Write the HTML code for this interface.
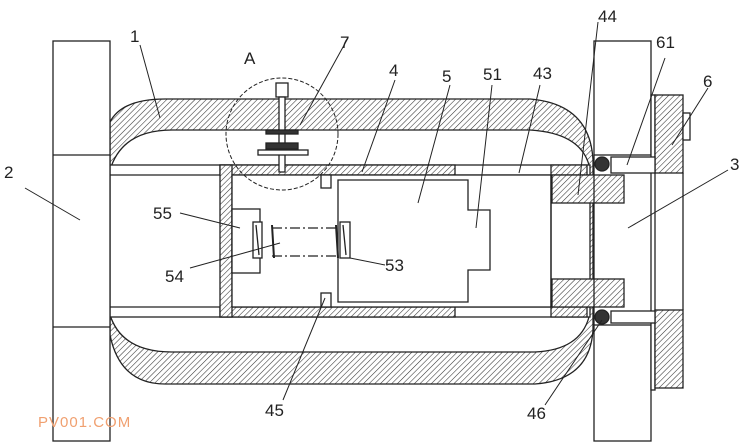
<!DOCTYPE html>
<html><head><meta charset="utf-8"><style>
body{margin:0;background:#fff}
svg{display:block}
text{font-family:"Liberation Sans",sans-serif;font-size:17px;fill:#222}
</style></head><body>
<svg width="750" height="447" viewBox="0 0 750 447" xmlns="http://www.w3.org/2000/svg">
<defs>
<pattern id="h" width="4" height="4" patternUnits="userSpaceOnUse" patternTransform="rotate(45)">
<rect width="4" height="4" fill="#fff"/><line x1="0" y1="0" x2="0" y2="4" stroke="#333" stroke-width="1.1"/>
</pattern>
</defs>
<g stroke="#222" stroke-width="1.3" fill="none">
<!-- shell 1 -->
<path d="M110,122 Q122,99 165,99 L530,99 Q590,104 593,160 L593,330 Q590,380 535,384 L165,384 Q120,384 110,335 Z" fill="url(#h)"/>
<path d="M110,170 Q122,130 172,130 L530,130 Q580,133 589,165 L589,317 Q580,350 535,352 L172,352 Q122,352 110,315 Z" fill="#fff"/>
<!-- tube 4 -->
<rect x="110" y="165" width="480" height="152" fill="#fff"/>
<line x1="110" y1="175" x2="590" y2="175"/>
<line x1="110" y1="307" x2="590" y2="307"/>
<rect x="220" y="165" width="235" height="10" fill="url(#h)"/>
<rect x="220" y="307" width="235" height="10" fill="url(#h)"/>
<rect x="220" y="165" width="12" height="152" fill="url(#h)"/>
<rect x="232" y="175" width="319" height="132" fill="#fff"/>
<rect x="551" y="165" width="36" height="10" fill="url(#h)"/>
<rect x="551" y="307" width="36" height="10" fill="url(#h)"/>
<line x1="551" y1="175" x2="551" y2="307"/>
<!-- 44 blocks -->
<rect x="552" y="175" width="72" height="28" fill="url(#h)"/>
<rect x="552" y="279" width="72" height="28" fill="url(#h)"/>
<!-- tabs -->
<rect x="321" y="175" width="10" height="13" fill="#fff"/>
<rect x="321" y="293" width="10" height="14" fill="#fff"/>
<!-- 5 -->
<path d="M338,180 L468,180 L468,210 L490,210 L490,270 L468,270 L468,302 L338,302 Z" fill="#fff"/>
<!-- 55 -->
<rect x="232" y="209" width="28" height="64" fill="#fff"/>
<rect x="253" y="222" width="9" height="36" fill="#fff"/>
<rect x="340" y="222" width="10" height="36" fill="#fff"/>
<path d="M256,225 L259,255 M343,225 L346,255"/>
<line x1="272" y1="228" x2="338" y2="228" stroke-dasharray="10,3,2,3"/>
<line x1="272" y1="256" x2="338" y2="256" stroke-dasharray="10,3,2,3"/>
<path d="M272,225 L274,258 M336,225 L338,258" stroke-width="2"/>
<!-- flange 2 -->
<rect x="53" y="41" width="57" height="400" fill="#fff"/>
<line x1="53" y1="155" x2="110" y2="155"/>
<line x1="53" y1="327" x2="110" y2="327"/>
<!-- plate 3 -->
<rect x="594" y="41" width="57" height="114" fill="#fff"/>
<rect x="594" y="325" width="57" height="116" fill="#fff"/>
<line x1="594" y1="155" x2="594" y2="325"/>
<rect x="651" y="95" width="4" height="295" fill="#fff"/>
<rect x="655" y="95" width="28" height="78" fill="url(#h)"/>
<rect x="655" y="310" width="28" height="78" fill="url(#h)"/>
<line x1="683" y1="173" x2="683" y2="310"/>
<rect x="683" y="113" width="7" height="27" fill="#fff"/>
<rect x="611" y="157" width="44" height="16" fill="#fff"/>
<rect x="611" y="311" width="44" height="12" fill="#fff"/>
<circle cx="602" cy="164" r="7" fill="#333"/>
<circle cx="602" cy="317" r="7" fill="#333"/>
<!-- circle A -->
<circle cx="282" cy="134" r="56" stroke-dasharray="4,2" stroke-width="1"/>
<!-- bolt 7 -->
<rect x="276" y="83" width="12" height="14" fill="#fff"/>
<rect x="279" y="97" width="6" height="75" fill="#fff"/>
<rect x="266" y="130" width="32" height="4" fill="#333"/>
<rect x="258" y="150" width="50" height="5" fill="#fff"/>
<rect x="266" y="143" width="32" height="6" fill="#333"/>
<!-- leaders -->
<g stroke-width="1">
<path d="M140,45 L160,118 M348,38 L300,125 M395,80 L362,172 M450,85 L418,203 M492,85 L476,228 M540,85 L519,173 M598,22 L578,195 M665,58 L627,165 M708,88 L672,145 M728,170 L628,228 M25,188 L80,220 M180,213 L240,228 M190,268 L280,243 M385,265 L350,258 M283,400 L325,298 M545,405 L602,320"/>
</g>
</g>
<text x="130" y="42">1</text>
<text x="244" y="64">A</text>
<text x="340" y="48">7</text>
<text x="389" y="76">4</text>
<text x="442" y="82">5</text>
<text x="483" y="80">51</text>
<text x="533" y="79">43</text>
<text x="598" y="22">44</text>
<text x="656" y="48">61</text>
<text x="703" y="87">6</text>
<text x="730" y="170">3</text>
<text x="4" y="178">2</text>
<text x="153" y="219">55</text>
<text x="165" y="282">54</text>
<text x="385" y="271">53</text>
<text x="265" y="416">45</text>
<text x="527" y="419">46</text>
<text x="38" y="427" style="font-size:15px;fill:#f0a070;letter-spacing:1px">PV001.COM</text>
</svg>
</body></html>
